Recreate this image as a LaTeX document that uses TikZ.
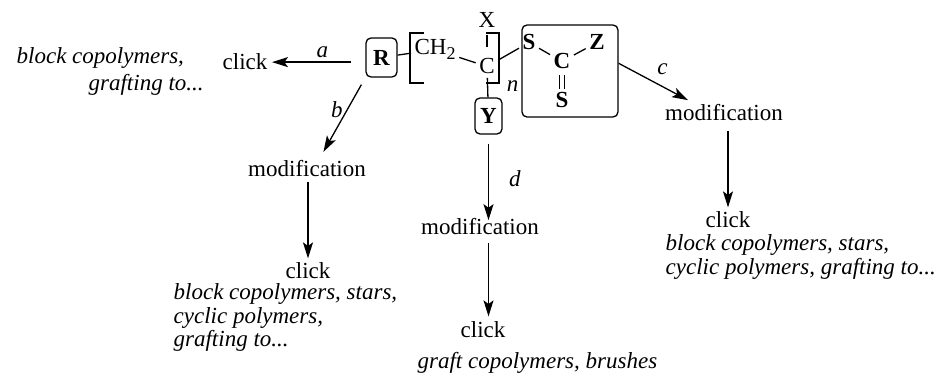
\documentclass[tikz,border=0pt]{standalone}
\usepackage{fontspec}
\setmainfont{Liberation Serif}
\usetikzlibrary{arrows.meta,positioning}

\begin{document}
\begin{tikzpicture}
	[x=0.5pt, y=-0.5pt, font=\fontsize{11.5}{11.75}\selectfont, line width=0.65pt,
	txt/.style	= {inner sep=2pt},
	note/.style	= {inner sep=0pt, anchor=north west, align=left, font=\fontsize{11.5}{11.75}\selectfont\itshape},
	atom/.style	= {inner sep=1.5pt},
	group/.style	= {draw, rounded corners=2.5pt, inner sep=0pt},
	lbl/.style	= {inner sep=2pt, font=\fontsize{11.5}{11.75}\selectfont\itshape},
	paths/.style	= {-{Stealth[length=8pt, width=5pt, inset=1.8pt]}},
	bond/.style	= {-}]
	
	\useasboundingbox (0,0) rectangle (939,374);
	
	% polymer backbone
	\node at (381.5, 57.5)	[group, minimum width=15.5pt, minimum height=19.5pt]	(r)	{\textbf{R}};
	\node at (411, 55)	[atom, anchor=base west]	(ch)	{CH\raisebox{-2.2pt}{\fontsize{9}{9}\selectfont 2}};
	\node at (487, 28)	[atom, anchor=base]	(x)	{X};
	\node at (487, 74)	[atom, anchor=base]	(c)	{C};
	\node at (488.5, 116)	[group, minimum width=13.5pt, minimum height=18pt]	(y)	{\textbf{Y}};
	\node at (512.5, 92)	[atom, anchor=base]	(n)	{\textit{n}};
	
	% end group
	\node at (570, 71)	[group, minimum width=48pt, minimum height=46pt]	(stc)	{};
	\node at (529, 50)	[atom, anchor=base]	(s1)	{\textbf{S}};
	\node at (597, 50)	[atom, anchor=base]	(z)	{\textbf{Z}};
	\node at (562, 69)	[atom, anchor=base]	(cb)	{\textbf{C}};
	\node at (562, 108)	[atom, anchor=base]	(s2)	{\textbf{S}};
	
	\draw (424,33) -- (410,33) -- (410,83) -- (424,83);
	\draw (486,33) -- (499,33) -- (499,83) -- (486,83);
	
	\draw [bond] (r) -- (ch);
	\draw [bond] (ch) -- (c);
	\draw [bond, shorten <=1.5pt, shorten >=4pt] (x) -- (c);
	\draw [bond] (c) -- (y);
	\draw [bond] (c) -- (s1);
	\draw [bond] (s1) -- (cb);
	\draw [bond] (cb) -- (z);
	\draw [bond, double, double distance=2pt, shorten <=1pt] (cb) -- (s2);
	
	% reactions
	\node at (245, 70)	[txt, anchor=base]	(clicka)	{click};
	\node at (307, 177)	[txt, anchor=base]	(modb)	{modification};
	\node at (308, 279)	[txt, anchor=base]	(clickb)	{click};
	\node at (480, 235)	[txt, anchor=base]	(modd)	{modification};
	\node at (483, 337)	[txt, anchor=base]	(clickd)	{click};
	\node at (724, 121)	[txt, anchor=base]	(modc)	{modification};
	\node at (728, 228)	[txt, anchor=base]	(clickc)	{click};
	
	\node at (16, 47)	[note]	(notea)	{block copolymers,\\[1.75pt]\hspace*{36pt}grafting to...};
	\node at (173, 283)	[note]	(noteb)	{block copolymers, stars,\\cyclic polymers,\\grafting to...};
	\node at (665, 234)	[note]	(notec)	{block copolymers, stars,\\cyclic polymers, grafting to...};
	\node at (417, 352)	[note]	(noted)	{graft copolymers, brushes};
	
	\draw [paths, shorten <=7pt] (clicka.east -| r.west) -- (clicka.east) node[lbl, pos=0.46, above] {a};
	\draw [paths, shorten <=4pt, shorten >=2.5pt] (r.south west) -- ([xshift=7pt]modb.north) node[lbl, pos=0.41, left] {b};
	\draw [paths] (clickb |- modb.south) -- (clickb);
	\draw [paths, shorten <=4.5pt, shorten >=-3pt] (y.south) -- (y.south |- modd.north) node[lbl, pos=0.55, right=8pt] {d};
	\draw [paths, shorten <=1.5pt] (y.south |- modd.south) -- (y.south |- clickd.north);
	\draw [paths] (stc.9.5) -- ([xshift=-18pt]modc.north) node[lbl, pos=0.47, above right=1pt] {c};
	\draw [paths, shorten <=2.5pt] (clickc |- modc.south) -- (clickc);
\end{tikzpicture}
\end{document}
